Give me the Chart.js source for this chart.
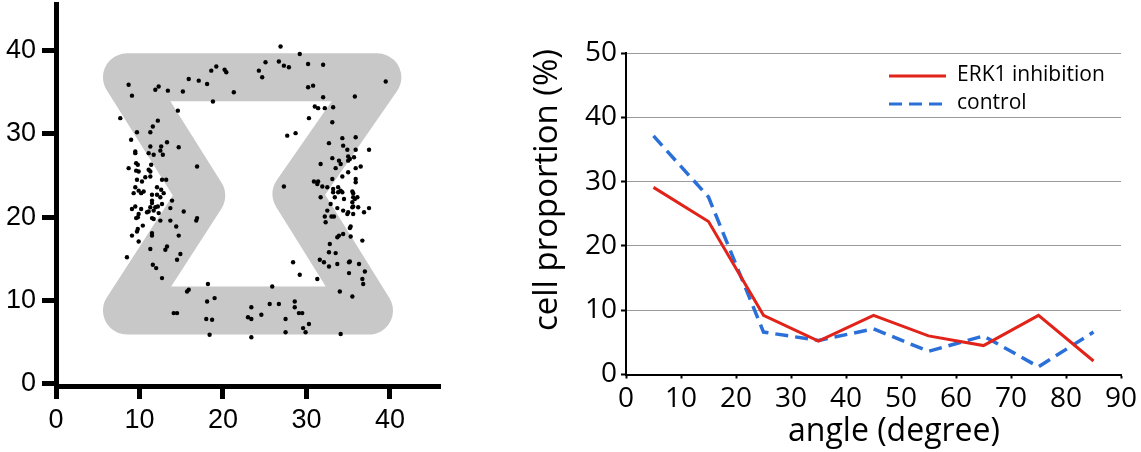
<!DOCTYPE html>
<html>
<head>
<meta charset="utf-8">
<script src="https://cdn.jsdelivr.net/npm/chart.js@4.4.1/dist/chart.umd.min.js"></script>
<style>
  html, body { margin: 0; padding: 0; background: #fff; }
  body { width: 1141px; height: 452px; position: relative; overflow: hidden; }
  #scatter-box { position: absolute; left: 0; top: 0; width: 470px; height: 452px; }
  #line-box { position: absolute; left: 470px; top: 0; width: 671px; height: 452px; }
</style>
</head>
<body>
<div id="scatter-box"><canvas id="scatter-chart"></canvas></div>
<div id="line-box"><canvas id="line-chart"></canvas></div>
<script>
// left panel: cell positions on the pattern
const cellX = [26.9,29.2,25.1,26.7,27.3,27.9,30.2,32.0,24.3,24.7,19.2,18.6,20.2,20.4,15.9,17.1,18.1,21.3,8.7,9.1,
  11.9,12.3,13.4,15.2,39.5,35.8,30.2,30.8,32.0,18.8,14.6,7.7,12.2,11.6,9.7,11.3,9.0,11.3,12.6,13.3,
  14.7,9.5,9.5,11.1,11.7,12.5,12.8,16.9,9.6,9.8,8.7,9.6,9.9,11.4,11.1,11.3,10.7,11.3,9.7,10.3,
  12.7,13.2,9.5,9.3,9.9,10.2,10.5,12.1,12.6,11.5,11.5,11.5,12.1,12.5,12.9,13.9,12.7,12.2,11.9,11.7,
  11.3,11.1,10.9,10.2,9.1,9.5,9.9,9.8,9.6,12.3,11.5,11.7,12.5,13.7,13.7,15.3,16.9,16.8,10.4,9.8,
  9.7,9.1,11.5,11.5,14.4,14.7,9.9,11.3,13.1,13.3,8.5,14.9,14.5,11.6,12.0,12.7,18.2,15.7,15.9,19.0,
  31.0,31.4,32.2,33.2,30.3,33.1,27.7,28.7,32.7,34.3,35.9,34.4,34.9,35.9,37.5,33.1,33.9,34.1,35.0,35.0,
  35.2,35.7,31.7,33.5,35.9,36.5,35.0,33.1,34.3,35.9,35.9,30.9,31.4,31.3,31.9,32.5,33.2,33.8,27.3,33.2,
  33.4,33.8,34.1,34.3,35.5,35.6,35.6,35.8,36.1,31.7,32.9,34.5,35.5,35.5,35.6,36.2,37.5,36.9,32.5,33.7,
  34.4,34.9,35.0,35.6,32.2,33.0,33.3,32.3,35.2,35.3,33.9,33.7,34.4,35.3,36.7,32.8,32.7,33.5,28.4,31.6,
  32.1,32.7,33.7,35.1,35.2,36.3,37.0,35.1,29.2,31.3,36.7,36.8,25.9,34.0,35.5,18.1,14.1,14.5,18.0,18.7,
  18.4,23.0,23.4,23.4,24.6,23.4,25.6,26.7,28.6,28.6,29.1,29.5,27.5,30.3,29.6,29.9,27.5,34.1];
const cellY = [40.5,39.6,38.6,38.7,38.2,38.0,38.4,38.3,37.6,36.8,38.1,37.6,37.7,37.4,36.6,36.4,36.0,35.0,35.9,34.6,
  35.3,35.7,35.2,35.1,36.3,34.5,35.6,35.8,34.4,33.9,32.8,31.9,31.6,30.9,30.2,30.2,29.3,28.5,28.5,29.0,
  28.4,27.9,27.7,27.7,27.5,28.0,27.5,26.1,26.5,26.3,25.9,25.6,25.5,26.3,25.7,25.5,24.8,24.9,24.5,24.3,
  24.5,24.5,23.6,22.9,23.2,22.9,23.1,23.6,23.3,22.7,22.0,21.7,22.7,22.4,22.9,22.0,21.6,21.3,21.2,20.8,
  21.2,20.7,20.6,21.0,21.0,21.3,20.4,20.0,19.9,20.5,19.9,19.8,19.6,21.1,19.6,20.7,19.9,19.6,19.0,18.6,
  18.3,17.8,18.1,17.8,18.9,17.8,17.1,16.2,16.1,16.5,15.2,15.6,14.9,14.3,13.9,12.7,12.0,11.1,11.3,10.3,
  33.3,33.1,33.1,33.2,31.9,31.4,29.8,30.1,28.9,29.5,29.6,28.6,28.1,28.1,28.1,27.1,26.8,26.4,27.3,26.8,
  27.0,27.2,26.4,25.9,25.9,26.1,25.4,24.6,24.9,24.6,24.2,24.3,24.3,24.0,23.7,23.6,23.4,23.6,23.7,23.0,
  22.4,23.0,23.2,23.0,23.1,22.9,22.4,22.2,22.4,22.4,21.6,22.2,21.8,21.2,21.3,21.2,21.1,20.6,20.8,21.1,
  20.8,20.4,20.6,20.4,20.1,20.1,20.1,19.4,18.7,18.9,17.8,17.6,18.0,17.7,17.2,16.8,15.8,15.7,14.6,14.9,
  14.6,14.1,14.4,14.6,14.7,14.4,13.5,13.3,13.1,12.6,12.6,12.0,11.7,11.1,10.5,9.9,8.5,8.5,7.8,7.7,
  5.9,8.0,7.8,9.2,8.3,5.6,9.6,9.6,9.9,9.2,8.5,8.5,7.8,7.2,6.7,6.2,6.2,6.0];

// centre line of the grey hourglass pattern
const patternX = [8.5, 38.5, 28.8, 37.5, 8.5, 17.4, 8.5];
const patternY = [36.8, 36.8, 22.8, 8.8, 8.8, 22.6, 36.8];
const scatterTicks = [0, 10, 20, 30, 40];

// right panel: angle distribution
const angleBins = [5, 15, 25, 35, 45, 55, 65, 75, 85];
const erk1Inhibition = [29.1, 23.8, 9.2, 5.2, 9.2, 6.0, 4.5, 9.2, 2.1];
const control = [37.1, 27.6, 6.6, 5.3, 7.1, 3.6, 6.0, 1.2, 6.6];

const RED = '#e2231a';
const BLUE = '#2b6fd8';
const sideFont = 'Liberation Sans, Arial, sans-serif';
const mainFont = 'Open Sans, Noto Sans, sans-serif';

const toPoints = (xs, ys) => xs.map((x, i) => ({ x, y: ys[i] }));
const noEdgePadding = s => { s.paddingTop = 0; s.paddingBottom = 0; s.paddingLeft = 0; s.paddingRight = 0 };

new Chart(document.getElementById('scatter-chart'), {
  type: 'scatter',
  data: {
    datasets: [
      {
        label: 'cells',
        data: toPoints(cellX, cellY),
        pointRadius: 2.2,
        pointBackgroundColor: '#000',
        pointBorderWidth: 0,
        order: 0
      },
      {
        label: 'pattern',
        data: toPoints(patternX, patternY),
        showLine: true,
        borderColor: '#c8c8c8',
        borderWidth: 48,
        borderJoinStyle: 'round',
        borderCapStyle: 'round',
        pointRadius: 0,
        order: 1
      }
    ]
  },
  options: {
    responsive: true,
    maintainAspectRatio: false,
    animation: false,
    layout: { padding: { top: 3, right: 30, left: 0, bottom: 0 } },
    plugins: { legend: { display: false }, tooltip: { enabled: false } },
    scales: {
      x: {
        type: 'linear', min: 0, max: 46,
        afterFit: s => { s.height = 66; noEdgePadding(s) },
        border: { color: '#000', width: 5 },
        grid: { drawOnChartArea: false, tickLength: 13, tickWidth: 5, tickColor: '#000' },
        afterBuildTicks: s => { s.ticks = scatterTicks.map(v => ({ value: v })) },
        ticks: { color: '#000', padding: 5, maxRotation: 0, font: { family: sideFont, size: 27 } }
      },
      y: {
        type: 'linear', min: -0.25, max: 45.6,
        afterFit: s => { s.width = 56; noEdgePadding(s) },
        border: { color: '#000', width: 5 },
        grid: { drawOnChartArea: false, tickLength: 14, tickWidth: 5, tickColor: '#000' },
        afterBuildTicks: s => { s.ticks = scatterTicks.map(v => ({ value: v })) },
        ticks: { color: '#000', padding: 6, font: { family: sideFont, size: 27 } }
      }
    }
  }
});

const lineExtras = {
  id: 'lineExtras',
  afterDraw(chart) {
    const { ctx, chartArea } = chart;
    ctx.save();
    ctx.fillStyle = '#000';
    // axis titles
    ctx.textAlign = 'center';
    ctx.textBaseline = 'middle';
    ctx.font = '33px ' + mainFont;
    ctx.save();
    ctx.translate(78, 190);
    ctx.rotate(-Math.PI / 2);
    ctx.fillText('cell proportion (%)', 0, 0);
    ctx.restore();
    ctx.font = '32px ' + mainFont;
    ctx.textBaseline = 'alphabetic';
    ctx.fillText('angle (degree)', 424, 441);
    // legend
    const x0 = chartArea.right - 232;
    const rows = [
      { text: 'ERK1 inhibition', color: RED, dash: [], y: 76 },
      { text: 'control', color: BLUE, dash: [13, 7], y: 104 }
    ];
    ctx.font = '21px ' + mainFont;
    ctx.textAlign = 'left';
    ctx.textBaseline = 'middle';
    rows.forEach(r => {
      ctx.strokeStyle = r.color;
      ctx.lineWidth = 3;
      ctx.setLineDash(r.dash);
      ctx.beginPath();
      ctx.moveTo(x0, r.y);
      ctx.lineTo(x0 + 57, r.y);
      ctx.stroke();
      ctx.fillText(r.text, x0 + 68, r.y - 1);
    });
    ctx.restore();
  }
};

new Chart(document.getElementById('line-chart'), {
  type: 'scatter',
  data: {
    datasets: [
      {
        label: 'ERK1 inhibition',
        data: toPoints(angleBins, erk1Inhibition),
        showLine: true,
        borderColor: RED,
        borderWidth: 3,
        pointRadius: 0
      },
      {
        label: 'control',
        data: toPoints(angleBins, control),
        showLine: true,
        borderColor: BLUE,
        borderWidth: 3.5,
        borderDash: [13, 7],
        pointRadius: 0
      }
    ]
  },
  options: {
    responsive: true,
    maintainAspectRatio: false,
    animation: false,
    layout: { padding: { top: 53, right: 20, left: 0, bottom: 0 } },
    plugins: { legend: { display: false }, tooltip: { enabled: false } },
    scales: {
      x: {
        type: 'linear', min: 0, max: 90,
        afterFit: s => { s.height = 77.5; noEdgePadding(s) },
        border: { color: '#000', width: 2 },
        grid: { drawOnChartArea: false, tickLength: 4, tickWidth: 2, tickColor: '#000' },
        ticks: { stepSize: 10, color: '#000', padding: 4, maxRotation: 0, font: { family: mainFont, size: 28 } }
      },
      y: {
        type: 'linear', min: 0, max: 50,
        afterFit: s => { s.width = 156; noEdgePadding(s) },
        border: { color: '#000', width: 2 },
        grid: { color: '#9a9a9a', lineWidth: 1, tickLength: 5, tickColor: '#000', tickWidth: 2 },
        ticks: { stepSize: 10, color: '#000', padding: 4, font: { family: mainFont, size: 28 } }
      }
    }
  },
  plugins: [lineExtras]
});
</script>
</body>
</html>
